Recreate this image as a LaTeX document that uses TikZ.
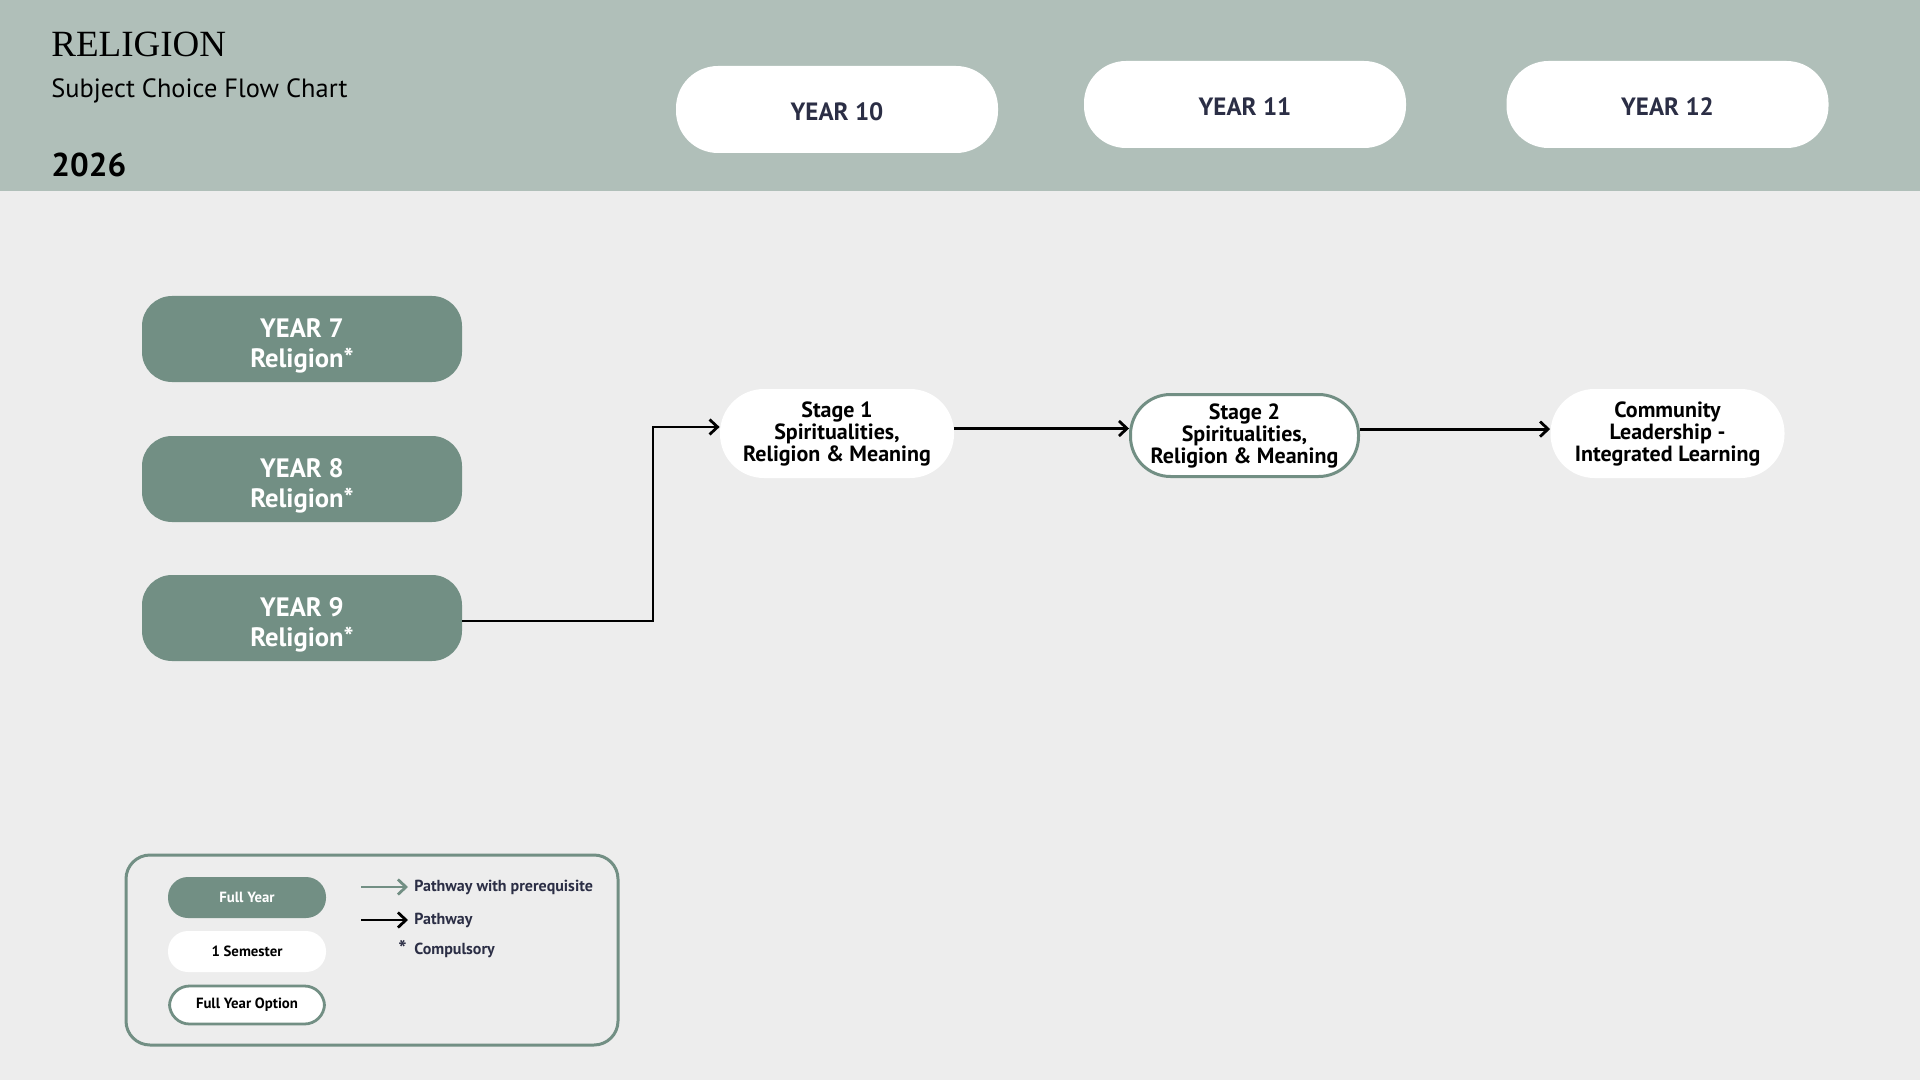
\documentclass[tikz,border=0pt]{standalone}
\usepackage{fontspec}
\setmainfont{PT Sans}
\newfontfamily\titlefont{Liberation Serif}
\usetikzlibrary{arrows.meta}

\definecolor{headgrey}{HTML}{B0BFB9}
\definecolor{pagegrey}{HTML}{EDEDED}
\definecolor{sage}{HTML}{728F84}
\definecolor{navy}{HTML}{2B2E45}

\begin{document}
\begin{tikzpicture}
        [x=0.5pt,y=-0.5pt,
         yearhead/.style={rectangle,rounded corners=21pt,fill=white,text=navy,
           minimum width=161pt,minimum height=43.5pt,text height=11pt,text depth=0pt,
           font=\bfseries\fontsize{12.5}{14}\selectfont},
         fullyear/.style={rectangle,rounded corners=15pt,fill=sage,text=white,
           minimum width=160pt,minimum height=43pt,align=center,
           text height=28pt,text depth=0pt,
           font=\bfseries\fontsize{13.3}{14.8}\selectfont},
         semester/.style={rectangle,rounded corners=22pt,fill=white,
           minimum width=117pt,minimum height=44.5pt,align=center,
           font=\bfseries\fontsize{11}{11}\selectfont},
         option/.style={semester,draw=sage,line width=1.5pt,
           rounded corners=20pt,minimum width=114pt,minimum height=41pt},
         keybox/.style={rectangle,rounded corners=10pt,minimum width=79pt,
           minimum height=20.5pt,font=\bfseries\fontsize{7.4}{8}\selectfont},
         keytext/.style={anchor=west,text=navy,inner sep=0pt,
           font=\bfseries\fontsize{8}{9}\selectfont},
         pathway/.style={-{Straight Barb[length=4pt,width=7.5pt]},line width=1.4pt},
         prereq/.style={pathway,sage}]

        % page and header band
        \useasboundingbox (0,0) rectangle (1920,1080);
        \fill[pagegrey] (0,0) rectangle (1920,1080);
        \fill[headgrey] (0,0) rectangle (1920,191);

        \node[anchor=base west,inner sep=0pt,font=\titlefont\fontsize{18.5}{20}\selectfont]
          (title) at (51,57) {RELIGION};
        \node[anchor=base west,inner sep=0pt,font=\fontsize{13.2}{14}\selectfont]
          (subtitle) at (51,98) {Subject Choice Flow Chart};
        \node[anchor=base west,inner sep=0pt,font=\bfseries\fontsize{16.5}{18}\selectfont]
          (year) at (51,177) {2026};

        \node[yearhead] (y10) at (837,109.5) {YEAR 10};
        \node[yearhead] (y11) at (1245,104.5) {YEAR 11};
        \node[yearhead] (y12) at (1667.5,104.5) {YEAR 12};

        % junior years
        \node[fullyear] (y7) at (302,339) {YEAR 7\\Religion*};
        \node[fullyear] (y8) at (302,479) {YEAR 8\\Religion*};
        \node[fullyear] (y9) at (302,618) {YEAR 9\\Religion*};

        % senior courses
        \node[semester] (s1) at (837,433.5) {Stage 1\\Spiritualities,\\Religion \& Meaning};
        \node[option] (s2) at (1244.5,435.5) {Stage 2\\Spiritualities,\\Religion \& Meaning};
        \node[semester] (cl) at (1667.5,433.5) {Community\\Leadership -\\Integrated Learning};

        \coordinate (bend) at (653,427);
        \draw[pathway] ([yshift=-1.5pt]y9.east) -| (bend) -- (bend -| s1.west);
        \draw[pathway] ([yshift=2.5pt]s1.east) -- ([yshift=2.5pt]s1.east -| s2.west);
        \draw[pathway] ([yshift=3.2pt]s2.east) -- ([yshift=3.2pt]s2.east -| cl.west);

        % key
        \draw[sage,line width=1.5pt,rounded corners=12pt] (126,855) rectangle (618,1045);
        \node[keybox,fill=sage,text=white] (kfull) at (247,897.5) {Full Year};
        \node[keybox,fill=white] (ksem) at (247,951.5) {1 Semester};
        \node[keybox,fill=white,draw=sage,line width=1.4pt,minimum width=77.5pt,
          minimum height=19pt] (kopt) at (247,1005) {Full Year Option};

        \node[keytext] (tpre) at (414,887) {Pathway with prerequisite};
        \node[keytext] (tpath) at (414,920) {Pathway};
        \node[keytext] (tcomp) at (414,950) {Compulsory};
        \node[keytext,anchor=east,font=\bfseries\fontsize{11}{11}\selectfont]
          (tstar) at (407,948) {*};
        \coordinate (apre) at (361,887);
        \coordinate (apath) at (361,920);
        \draw[prereq] (apre) -- ([xshift=-3pt]tpre.west);
        \draw[pathway] (apath) -- ([xshift=-3pt]tpath.west);
      \end{tikzpicture}
\end{document}
